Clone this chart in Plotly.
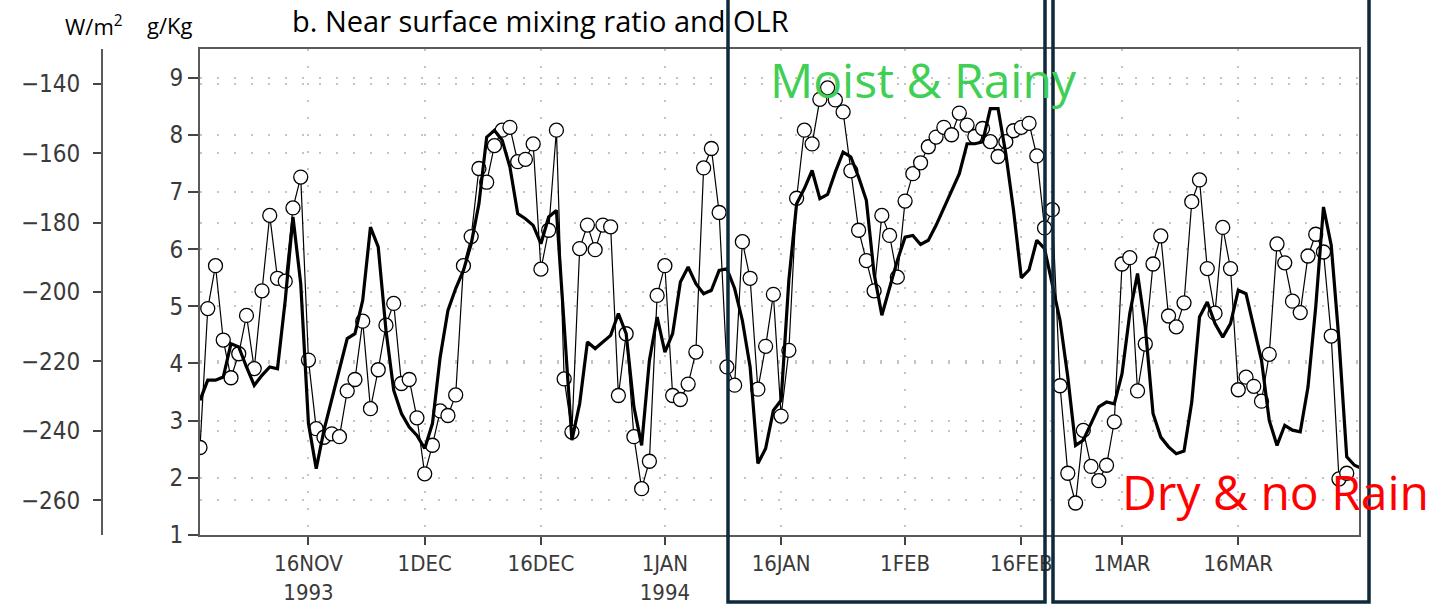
import datetime as dt
import plotly.graph_objects as go

# ---------------- data ----------------
start = dt.date(1993, 11, 2)

mixing_ratio = [
    2.53, 4.96, 5.71, 4.41, 3.75, 4.17, 4.84, 3.91, 5.27, 6.59,
    5.49, 5.44, 6.72, 7.26, 4.06, 2.86, 2.71, 2.77, 2.72, 3.52,
    3.72, 4.74, 3.21, 3.89, 4.67, 5.05, 3.65, 3.72, 3.05, 2.07,
    2.57, 3.17, 3.09, 3.45, 5.71, 6.22, 7.41, 7.17, 7.81, 8.08,
    8.13, 7.53, 7.57, 7.84, 5.65, 6.33, 8.08, 3.73, 2.80, 6.01,
    6.42, 5.99, 6.42, 6.39, 3.44, 4.52, 2.72, 1.81, 2.29, 5.19,
    5.71, 3.44, 3.37, 3.64, 4.20, 7.42, 7.76, 6.64, 3.94, 3.62,
    6.13, 5.49, 3.55, 4.30, 5.21, 3.08, 4.23, 6.89, 8.08, 7.84,
    8.62, 8.82, 8.61, 8.40, 7.37, 6.33, 5.80, 5.27, 6.59, 6.24,
    5.51, 6.84, 7.32, 7.51, 7.79, 7.96, 8.13, 8.00, 8.38, 8.17,
    7.97, 8.11, 7.88, 7.62, 7.88, 8.07, 8.13, 8.20, 7.63, 6.37,
    6.69, 3.61, 2.08, 1.56, 2.83, 2.20, 1.95, 2.22, 2.98, 5.74,
    5.85, 3.52, 4.34, 5.74, 6.23, 4.83, 4.64, 5.06, 6.83, 7.21,
    5.66, 4.88, 6.38, 5.66, 3.54, 3.76, 3.60, 3.34, 4.16, 6.09,
    5.76, 5.09, 4.89, 5.88, 6.26, 5.95, 4.48, 1.98, 2.08,
]

olr = [
    -231.2, -225.4, -225.4, -224.5, -214.9, -215.8, -221.6, -226.9, -224.0, -221.6,
    -222.1, -202.4, -178.4, -197.6, -237.9, -250.9, -239.8, -231.2, -222.6, -213.4,
    -212.0, -202.4, -181.3, -187.0, -211.0, -228.3, -235.0, -238.9, -241.3, -245.1,
    -237.9, -218.7, -205.3, -199.0, -193.8, -186.1, -174.6, -155.4, -153.4, -156.3,
    -164.0, -177.4, -178.9, -180.8, -186.1, -178.4, -176.5, -211.0, -242.7, -232.2,
    -214.4, -216.3, -214.4, -212.5, -206.2, -212.0, -233.1, -244.2, -219.7, -207.2,
    -217.3, -212.0, -197.1, -192.8, -197.6, -200.5, -199.5, -193.8, -193.3, -199.0,
    -208.2, -221.6, -249.4, -245.1, -234.1, -231.2, -196.6, -174.6, -170.2, -165.0,
    -173.1, -171.9, -165.4, -159.7, -161.1, -166.9, -173.6, -194.7, -206.7, -198.6,
    -190.9, -184.2, -183.7, -186.3, -185.1, -180.8, -176.0, -170.7, -165.9, -157.3,
    -157.3, -156.8, -147.2, -147.2, -160.2, -176.5, -195.9, -193.6, -185.1, -187.5,
    -197.6, -208.2, -224.5, -244.2, -242.7, -237.9, -233.1, -231.7, -232.2, -223.5,
    -206.2, -194.7, -210.1, -235.0, -241.8, -244.6, -246.6, -245.8, -231.7, -207.2,
    -202.9, -209.1, -213.0, -209.1, -199.5, -200.5, -210.1, -219.7, -237.0, -244.2,
    -238.4, -239.8, -240.3, -227.4, -204.3, -175.5, -186.6, -213.9, -247.5, -249.9,
    -250.9,
]

mr_dates = [start + dt.timedelta(days=i) for i in range(len(mixing_ratio))]
olr_dates = [start + dt.timedelta(days=i) for i in range(len(olr))]

x_tick_dates = ["1993-11-16", "1993-12-01", "1993-12-16", "1994-01-01", "1994-01-16",
                "1994-02-01", "1994-02-16", "1994-03-01", "1994-03-16"]
x_tick_text = ["16NOV<br>1993", "1DEC", "16DEC", "1JAN<br>1994", "16JAN",
               "1FEB", "16FEB", "1MAR", "16MAR"]
mr_ticks = [1, 2, 3, 4, 5, 6, 7, 8, 9]
olr_ticks = [-140, -160, -180, -200, -220, -240, -260]

# ---------------- geometry helpers (pixel -> paper) ----------------
W, H = 1437, 606
ML, MR, MT, MB = 80, 78, 49, 71
PW = W - ML - MR
PH = H - MT - MB


def px(x):
    return (x - ML) / PW


def py(y):
    return (H - MB - y) / PH


fam = "Liberation Sans Narrow, DejaVu Sans Condensed, Liberation Sans, Arial"
tick_font = dict(family=fam, size=24, color="#3a3a3a")
xtick_font = dict(family=fam, size=22, color="#3a3a3a")
grid_kw = dict(showgrid=True, gridcolor="#c4c4c4", gridwidth=1.5, griddash="2px,15px")

fig = go.Figure()

fig.add_trace(go.Scatter(
    x=mr_dates, y=mixing_ratio, mode="lines+markers", yaxis="y",
    line=dict(color="black", width=1.2),
    marker=dict(symbol="circle", size=14, color="white",
                line=dict(color="black", width=1.3)),
    showlegend=False,
))
fig.add_trace(go.Scatter(
    x=olr_dates, y=olr, mode="lines", yaxis="y2",
    line=dict(color="black", width=3.2),
    showlegend=False,
))

fig.update_layout(
    width=W, height=H,
    margin=dict(l=ML, r=MR, t=MT, b=MB, autoexpand=False),
    paper_bgcolor="white", plot_bgcolor="white",
    xaxis=dict(
        type="date", domain=[px(200), 1], automargin=False,
        range=["1993-11-02", "1994-03-31 14:00"],
        tickmode="array", tickvals=x_tick_dates, ticktext=x_tick_text,
        ticks="outside", ticklen=8, tickwidth=1.5, tickcolor="#444",
        showline=True, linecolor="#5a5a5a", linewidth=2, mirror=True,
        tickfont=xtick_font, zeroline=False, **grid_kw,
    ),
    yaxis=dict(
        range=[1, 9.5], tickmode="array", tickvals=mr_ticks, automargin=False,
        ticks="outside", ticklen=10, tickwidth=1.5, tickcolor="#444",
        showline=True, linecolor="#5a5a5a", linewidth=2, mirror=True,
        tickfont=tick_font, zeroline=False, **grid_kw,
    ),
    yaxis2=dict(
        overlaying="y", side="left", anchor="free", position=px(102), automargin=False,
        range=[-270, -130], tickmode="array", tickvals=olr_ticks,
        ticks="outside", ticklen=8, tickwidth=1.5, tickcolor="#444",
        showline=True, linecolor="#5a5a5a", linewidth=2,
        tickfont=tick_font, zeroline=False, ticklabelstandoff=8, **grid_kw,
    ),
)

# region boxes
box_color = "#0e2a3a"
for x0, x1 in [(728, 1045), (1053, 1369)]:
    fig.add_shape(type="rect", xref="paper", yref="paper",
                  x0=px(x0), x1=px(x1), y0=py(602), y1=py(-10),
                  line=dict(color=box_color, width=3.5), fillcolor="rgba(0,0,0,0)",
                  layer="above")

text_font = "Open Sans, Lato, Liberation Sans, Arial"
annots = [
    dict(text="b. Near surface mixing ratio and OLR", x=px(290), y=py(20),
         xanchor="left", yanchor="middle", font=dict(family=text_font, size=29, color="black")),
    dict(text="W/m<sup>2</sup>", x=px(63), y=py(25),
         xanchor="left", yanchor="middle", font=dict(family=text_font, size=22, color="black")),
    dict(text="g/Kg", x=px(145), y=py(25),
         xanchor="left", yanchor="middle", font=dict(family=text_font, size=22, color="black")),
    dict(text="Moist &amp; Rainy", x=px(768), y=py(79),
         xanchor="left", yanchor="middle", font=dict(family=text_font, size=48, color="#3fcf55")),
    dict(text="Dry &amp; no Rain", x=px(1120), y=py(491),
         xanchor="left", yanchor="middle", font=dict(family=text_font, size=48, color="#ff0000")),
]
for a in annots:
    fig.add_annotation(xref="paper", yref="paper", showarrow=False, **a)

fig.write_html("out.html")
